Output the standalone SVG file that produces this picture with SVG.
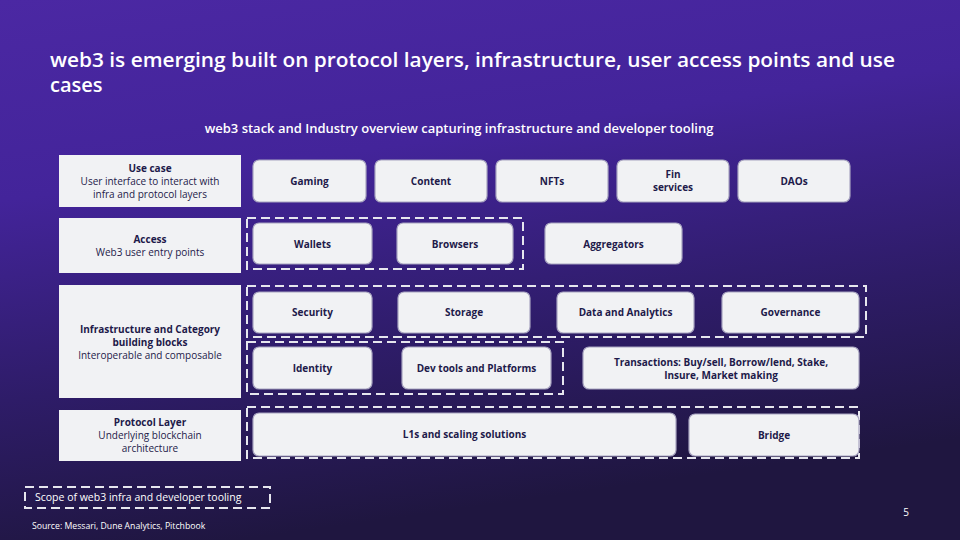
<svg xmlns="http://www.w3.org/2000/svg" width="960" height="540" viewBox="0 0 960 540">
<defs>
<linearGradient id="bg" x1="0" y1="0" x2="0.25" y2="1">
<stop offset="0" stop-color="#4b28a3"/>
<stop offset="0.35" stop-color="#43249a"/>
<stop offset="0.7" stop-color="#2e1c68"/>
<stop offset="1" stop-color="#1f1640"/>
</linearGradient>
<style>
.title{font-family:"Open Sans","Liberation Sans",sans-serif;font-weight:600;font-size:20px;fill:#ffffff}
.sub{font-family:"Open Sans","Liberation Sans",sans-serif;font-weight:600;font-size:13px;fill:#ffffff}
.lab{fill:#f1f2f4}
.box{fill:#f1f2f4;stroke:#a8a4c0;stroke-width:1.2}
.dash{fill:none;stroke:#e6e6ee;stroke-width:2;stroke-dasharray:9 5}
.t{font-family:"Open Sans","Liberation Sans",sans-serif;font-size:10px;fill:#1e1a4a;text-anchor:middle}
.b{font-weight:700}
.foot{font-family:"Open Sans","Liberation Sans",sans-serif;fill:#ffffff}
</style>
</defs>
<rect width="960" height="540" fill="url(#bg)"/>

<text class="title" x="50" y="67" textLength="845" lengthAdjust="spacingAndGlyphs">web3 is emerging built on protocol layers, infrastructure, user access points and use</text>
<text class="title" x="50" y="92">cases</text>
<text class="sub" x="459" y="133" text-anchor="middle">web3 stack and Industry overview capturing infrastructure and developer tooling</text>

<g id="scope-boxes">
<rect class="dash" x="247" y="218" width="276" height="51"/>
<rect class="dash" x="247" y="286" width="619" height="51"/>
<rect class="dash" x="247" y="342" width="316" height="52"/>
<rect class="dash" x="247" y="407" width="612" height="51"/>
</g>

<g id="layer-usecase">
<rect class="lab" x="59" y="155" width="182" height="52"/>
<text class="t b" x="150" y="172">Use case</text>
<text class="t" x="150" y="185">User interface to interact with</text>
<text class="t" x="150" y="198">infra and protocol layers</text>
</g>
<g id="layer-access">
<rect class="lab" x="59" y="218" width="182" height="55"/>
<text class="t b" x="150" y="243">Access</text>
<text class="t" x="150" y="256">Web3 user entry points</text>
</g>
<g id="layer-infra">
<rect class="lab" x="59" y="285" width="182" height="113"/>
<text class="t b" x="150" y="333">Infrastructure and Category</text>
<text class="t b" x="150" y="346">building blocks</text>
<text class="t" x="150" y="359">Interoperable and composable</text>
</g>
<g id="layer-protocol">
<rect class="lab" x="59" y="410" width="182" height="51"/>
<text class="t b" x="150" y="426">Protocol Layer</text>
<text class="t" x="150" y="439">Underlying blockchain</text>
<text class="t" x="150" y="452">architecture</text>
</g>

<g id="gaming"><rect class="box" x="253" y="160" width="113" height="42" rx="6"/><text class="t b" x="309.5" y="185">Gaming</text></g>
<g id="content"><rect class="box" x="375" y="160" width="112" height="42" rx="6"/><text class="t b" x="431" y="185">Content</text></g>
<g id="nfts"><rect class="box" x="496" y="160" width="112" height="42" rx="6"/><text class="t b" x="552" y="185">NFTs</text></g>
<g id="fin"><rect class="box" x="617" y="160" width="112" height="42" rx="6"/><text class="t b" x="673" y="178">Fin</text><text class="t b" x="673" y="191">services</text></g>
<g id="daos"><rect class="box" x="738" y="160" width="112" height="42" rx="6"/><text class="t b" x="794" y="185">DAOs</text></g>

<g id="wallets"><rect class="box" x="253" y="223" width="119" height="41" rx="6"/><text class="t b" x="312.5" y="248">Wallets</text></g>
<g id="browsers"><rect class="box" x="397" y="223" width="116" height="41" rx="6"/><text class="t b" x="455" y="248">Browsers</text></g>
<g id="aggregators"><rect class="box" x="545" y="223" width="137" height="41" rx="6"/><text class="t b" x="613.5" y="248">Aggregators</text></g>

<g id="security"><rect class="box" x="253" y="292" width="119" height="41" rx="6"/><text class="t b" x="312.5" y="316">Security</text></g>
<g id="storage"><rect class="box" x="398" y="292" width="132" height="41" rx="6"/><text class="t b" x="464" y="316">Storage</text></g>
<g id="data"><rect class="box" x="557" y="292" width="137" height="41" rx="6"/><text class="t b" x="625.5" y="316">Data and Analytics</text></g>
<g id="governance"><rect class="box" x="722" y="292" width="137" height="41" rx="6"/><text class="t b" x="790.5" y="316">Governance</text></g>

<g id="identity"><rect class="box" x="253" y="347" width="119" height="42" rx="6"/><text class="t b" x="312.5" y="372">Identity</text></g>
<g id="devtools"><rect class="box" x="402" y="347" width="149" height="42" rx="6"/><text class="t b" x="476.5" y="372">Dev tools and Platforms</text></g>
<g id="transactions"><rect class="box" x="583" y="347" width="276" height="42" rx="6"/><text class="t b" x="721" y="366">Transactions: Buy/sell, Borrow/lend, Stake,</text><text class="t b" x="721" y="379">Insure, Market making</text></g>

<g id="l1s"><rect class="box" x="253" y="413" width="423" height="43" rx="6"/><text class="t b" x="464.5" y="438">L1s and scaling solutions</text></g>
<g id="bridge"><rect class="box" x="689" y="414" width="170" height="42" rx="6"/><text class="t b" x="774" y="439">Bridge</text></g>

<g id="legend">
<rect class="dash" x="25" y="487" width="245" height="21"/>
<text class="foot" x="35" y="501" font-size="10.5">Scope of web3 infra and developer tooling</text>
</g>
<text class="foot" x="906" y="516" font-size="10" text-anchor="middle">5</text>
<text class="foot" x="32" y="529" font-size="8.7">Source: Messari, Dune Analytics, Pitchbook</text>
</svg>
